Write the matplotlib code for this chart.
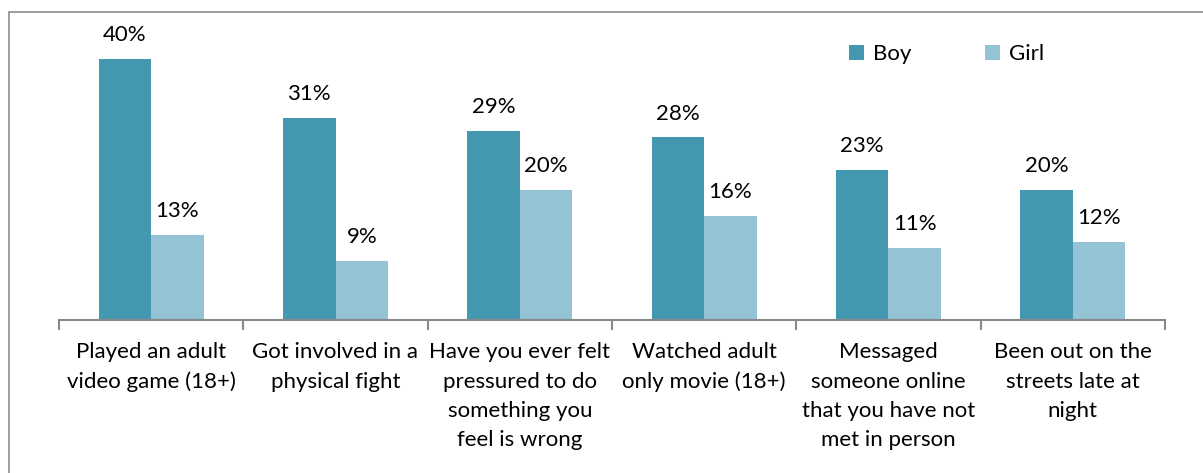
import numpy as np
import matplotlib.pyplot as plt
from matplotlib.patches import Rectangle

categories = [
    "Played an adult\nvideo game (18+)",
    "Got involved in a\nphysical fight",
    "Have you ever felt\npressured to do\nsomething you\nfeel is wrong",
    "Watched adult\nonly movie (18+)",
    "Messaged\nsomeone online\nthat you have not\nmet in person",
    "Been out on the\nstreets late at\nnight",
]
boy = [40, 31, 29, 28, 23, 20]
girl = [13, 9, 20, 16, 11, 12]

boy_color = "#4398B0"
girl_color = "#93C3D5"

plt.rcParams['font.family'] = ['Lato', 'DejaVu Sans']
fs = 16

fig = plt.figure(figsize=(12.03, 4.73), dpi=100)
W, H = 1203, 473
ax = fig.add_axes([59 / W, (H - 320) / H, (1165 - 59) / W, 300 / H])

x = np.arange(len(categories))
w = 0.285
ax.bar(x - w / 2, boy, w, color=boy_color, label="Boy")
ax.bar(x + w / 2, girl, w, color=girl_color, label="Girl")

for xi, v in zip(x - w / 2, boy):
    ax.annotate(f"{v}%", (xi, v), xytext=(0, 10), textcoords="offset points",
                ha="center", va="bottom", fontsize=fs)
for xi, v in zip(x + w / 2, girl):
    ax.annotate(f"{v}%", (xi, v), xytext=(0, 10), textcoords="offset points",
                ha="center", va="bottom", fontsize=fs)

ax.set_xlim(-0.5, len(categories) - 0.5)
ax.set_ylim(0, 46)
ax.set_yticks([])
for s in ["top", "right", "left"]:
    ax.spines[s].set_visible(False)
ax.spines["bottom"].set_color("#898989")
ax.spines["bottom"].set_linewidth(1.5)

ax.set_xticks(np.arange(len(categories) + 1) - 0.5, minor=True)
ax.tick_params(axis="x", which="minor", length=7, width=1.5, color="#898989")
ax.set_xticks(x)
ax.set_xticklabels(categories, fontsize=fs, linespacing=1.58, va="top")
ax.tick_params(axis="x", which="major", length=0, pad=16)

ax.legend(loc="upper left", bbox_to_anchor=(0.696, 0.985), ncol=2, frameon=False,
          fontsize=fs, handlelength=0.7, handleheight=0.7, columnspacing=3.3,
          handletextpad=0.4)

# frame on the left and top edges
fig.patches.append(Rectangle((9 / W, -0.1), 1.2, (H - 12) / H + 0.1,
                             transform=fig.transFigure, fill=False,
                             edgecolor="#8c8c8c", linewidth=1.2))

fig.savefig("out.png", dpi=100)
